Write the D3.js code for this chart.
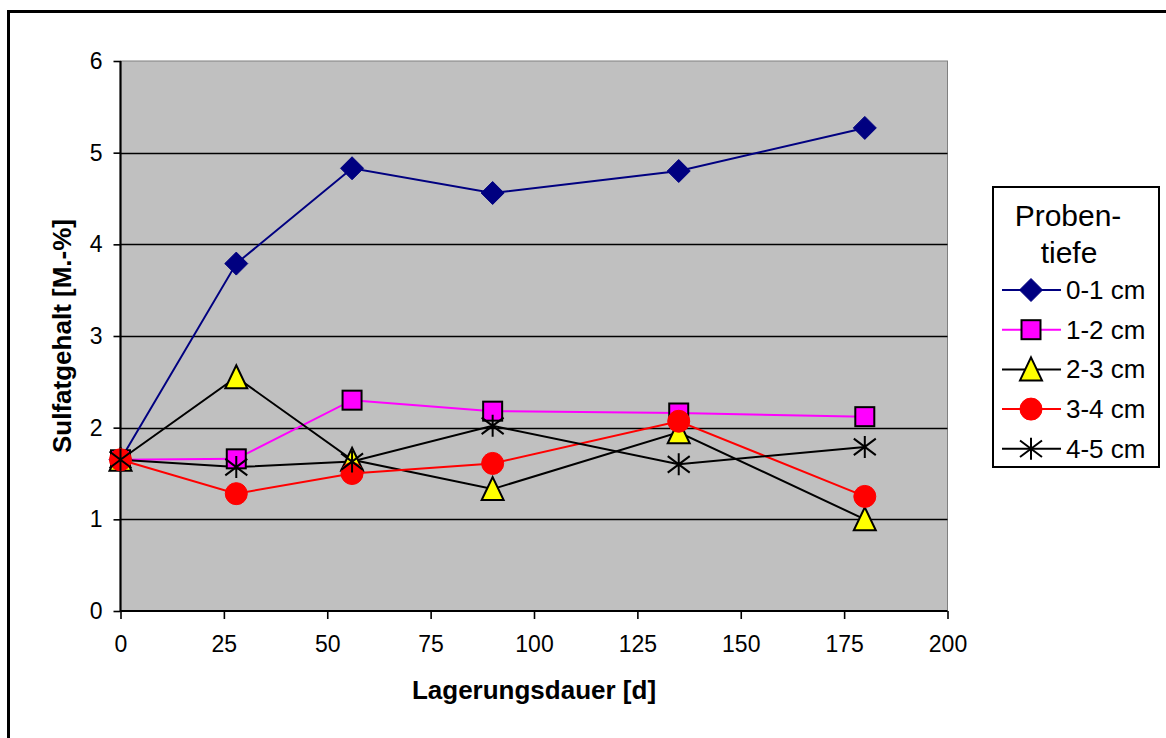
<!DOCTYPE html>
<html>
<head>
<meta charset="utf-8">
<script src="https://cdn.jsdelivr.net/npm/d3@7"></script>
<style>
  html, body { margin: 0; padding: 0; background: #fff; }
  svg { display: block; font-family: "Liberation Sans", Arial, sans-serif; }
</style>
</head>
<body>
<svg id="chart" width="1166" height="738"></svg>
<script>
// ---- data ----
const days = [0, 28, 56, 90, 135, 180];
const seriesNames = ["0-1 cm", "1-2 cm", "2-3 cm", "3-4 cm", "4-5 cm"];
const s01 = [1.65, 3.79, 4.83, 4.56, 4.80, 5.27];
const s12 = [1.65, 1.66, 2.30, 2.18, 2.16, 2.12];
const s23 = [1.65, 2.55, 1.65, 1.33, 1.95, 1.00];
const s34 = [1.65, 1.28, 1.50, 1.61, 2.07, 1.25];
const s45 = [1.65, 1.57, 1.63, 2.02, 1.60, 1.79];
const xTicks = [0, 25, 50, 75, 100, 125, 150, 175, 200];
const yTicks = [0, 1, 2, 3, 4, 5, 6];
const xTitle = "Lagerungsdauer [d]";
const yTitle = "Sulfatgehalt [M.-%]";
const legendTitle = ["Proben-", "tiefe"];

const styles = [
  { color: "#000080", marker: "diamond", fill: "#000080", stroke: "#000080" },
  { color: "#ff00ff", marker: "square", fill: "#ff00ff", stroke: "#000000" },
  { color: "#000000", marker: "triangle", fill: "#ffff00", stroke: "#000000" },
  { color: "#ff0000", marker: "circle", fill: "#ff0000", stroke: "#ff0000" },
  { color: "#000000", marker: "star", fill: "none", stroke: "#000000" }
];
const allSeries = [s01, s12, s23, s34, s45];

const svg = d3.select("#chart");

// outer border
svg.append("rect").attr("x", 8.5).attr("y", 11.5).attr("width", 1170).attr("height", 740)
  .attr("fill", "none").attr("stroke", "#000").attr("stroke-width", 3);

const x = d3.scaleLinear().domain([0, 200]).range([120.5, 947.5]);
const y = d3.scaleLinear().domain([0, 6]).range([611, 61]);

// plot background
svg.append("rect").attr("x", x(0)).attr("y", y(6)).attr("width", x(200) - x(0)).attr("height", y(0) - y(6))
  .attr("fill", "#c0c0c0").attr("stroke", "#808080").attr("stroke-width", 1);

// gridlines
svg.append("g").selectAll("line").data(yTicks.filter(d => d > 0 && d < 6)).join("line")
  .attr("x1", x(0)).attr("x2", x(200))
  .attr("y1", d => Math.round(y(d)) + 0.5).attr("y2", d => Math.round(y(d)) + 0.5)
  .attr("stroke", "#000").attr("stroke-width", 1.3);

// axes
const xAxis = svg.append("g").attr("transform", `translate(0,${y(0)})`)
  .call(d3.axisBottom(x).tickValues(xTicks).tickSize(8).tickPadding(17).tickFormat(d3.format("d")));
const yAxis = svg.append("g").attr("transform", `translate(${x(0)},0)`)
  .call(d3.axisLeft(y).tickValues(yTicks).tickSize(7).tickPadding(11).tickFormat(d3.format("d")));
[xAxis, yAxis].forEach(g => {
  g.select(".domain").attr("stroke", "#000").attr("stroke-width", 2.2);
  g.selectAll(".tick line").attr("stroke", "#000").attr("stroke-width", 1.6);
  g.selectAll(".tick text").attr("fill", "#000").style("font-size", "23px")
    .style("font-family", "'Liberation Sans', Arial, sans-serif");
});
xAxis.select(".domain").attr("d", `M${x(0)},0H${x(200)}`);
yAxis.select(".domain").attr("d", `M0,${y(6)}V${y(0)}`);

// axis titles
svg.append("text").attr("x", 534).attr("y", 699).attr("text-anchor", "middle")
  .style("font-size", "26px").style("font-weight", "bold").text(xTitle);
svg.append("text").attr("transform", `translate(71,336) rotate(-90)`).attr("text-anchor", "middle")
  .style("font-size", "26px").style("font-weight", "bold").text(yTitle);

// marker drawing
function drawMarker(g, type, cx, cy, st) {
  if (type === "diamond") {
    const r = 11.5;
    g.append("path").attr("d", `M${cx},${cy - r}L${cx + r},${cy}L${cx},${cy + r}L${cx - r},${cy}Z`)
      .attr("fill", st.fill).attr("stroke", st.stroke).attr("stroke-width", 1);
  } else if (type === "square") {
    const h = 9.5;
    g.append("rect").attr("x", cx - h).attr("y", cy - h).attr("width", 2 * h).attr("height", 2 * h)
      .attr("fill", st.fill).attr("stroke", st.stroke).attr("stroke-width", 2);
  } else if (type === "triangle") {
    const h = 11;
    g.append("path").attr("d", `M${cx},${cy - h - 1}L${cx + h},${cy + h}L${cx - h},${cy + h}Z`)
      .attr("fill", st.fill).attr("stroke", st.stroke).attr("stroke-width", 2).attr("stroke-linejoin", "miter");
  } else if (type === "circle") {
    g.append("circle").attr("cx", cx).attr("cy", cy).attr("r", 11)
      .attr("fill", st.fill).attr("stroke", st.stroke).attr("stroke-width", 1);
  } else if (type === "star") {
    const r = 11;
    g.append("path").attr("d",
      `M${cx},${cy - r}V${cy + r}M${cx - r},${cy - r * 0.75}L${cx + r},${cy + r * 0.75}M${cx - r},${cy + r * 0.75}L${cx + r},${cy - r * 0.75}`)
      .attr("fill", "none").attr("stroke", st.stroke).attr("stroke-width", 2);
  }
}

const line = d3.line().x(d => x(d[0])).y(d => y(d[1]));

// lines
const linesG = svg.append("g");
allSeries.forEach((vals, i) => {
  linesG.append("path").datum(days.map((d, j) => [d, vals[j]]))
    .attr("d", line).attr("fill", "none").attr("stroke", styles[i].color).attr("stroke-width", 2);
});
// markers
allSeries.forEach((vals, i) => {
  const g = svg.append("g");
  days.forEach((d, j) => drawMarker(g, styles[i].marker, x(d), y(vals[j]), styles[i]));
});

// legend
const lg = svg.append("g");
lg.append("rect").attr("x", 993).attr("y", 187).attr("width", 166).attr("height", 280)
  .attr("fill", "#fff").attr("stroke", "#000").attr("stroke-width", 2);
lg.append("text").attr("x", 1068).attr("y", 226).attr("text-anchor", "middle")
  .style("font-size", "30px").text(legendTitle[0]);
lg.append("text").attr("x", 1069).attr("y", 263).attr("text-anchor", "middle")
  .style("font-size", "30px").text(legendTitle[1]);
seriesNames.forEach((name, i) => {
  const cy = 290 + i * 39.7;
  lg.append("line").attr("x1", 1002).attr("x2", 1061).attr("y1", cy).attr("y2", cy)
    .attr("stroke", styles[i].color).attr("stroke-width", 2);
  drawMarker(lg, styles[i].marker, 1031, cy, styles[i]);
  lg.append("text").attr("x", 1066).attr("y", cy + 9).style("font-size", "26px").text(name);
});
</script>
</body>
</html>
